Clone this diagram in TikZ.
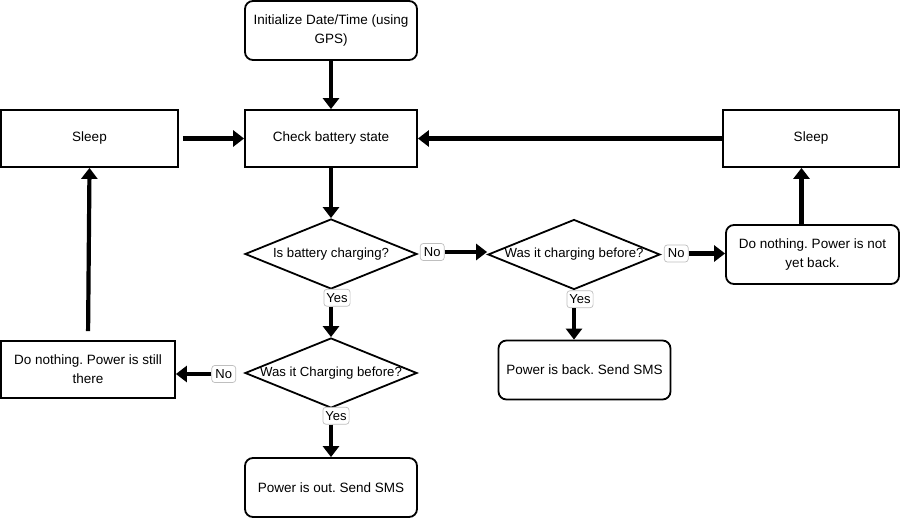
\documentclass[tikz,border=0pt]{standalone}
\usepackage{fontspec}
\setmainfont{Liberation Sans}
\frenchspacing
\usetikzlibrary{shapes.geometric,arrows.meta}
\begin{document}
\begin{tikzpicture}[x=1pt,y=-1pt,
 box/.style={draw,line width=1.8pt,minimum width=172pt,minimum height=57pt,align=center,font=\fontsize{13.5}{19}\selectfont,inner sep=0pt},
 rbox/.style={box,rounded corners=8pt,minimum height=59pt},
 dia/.style={draw,diamond,line width=1.8pt,minimum width=172pt,minimum height=70pt,inner sep=0pt},
 dtext/.style={font=\fontsize{13.2}{19}\selectfont},
 lbl/.style={draw=black!25,fill=white,rounded corners=3pt,inner sep=2.5pt,minimum height=17pt,minimum width=24pt,font=\fontsize{13}{15}\selectfont,line width=0.7pt},
 arr/.style={line width=4.2pt,-{Triangle[length=11pt,width=16pt]}}
]
\useasboundingbox (0,0) rectangle (901,518);
\node[rbox] (init) at (331,30.5) {Initialize Date/Time (using\\GPS)};
\node[box] (check) at (331,138.5) {Check battery state};
\node[box,minimum width=177pt] (sleepL) at (89.5,138.5) {Sleep};
\node[box,minimum width=176pt] (sleepR) at (811,138.5) {Sleep};
\node[dia] (d1) at (331,254) {};
\node[dtext] at (d1) {Is battery charging?};
\node[dia] (d2) at (574,254.5) {};
\node[dtext] at (d2) {Was it charging before?};
\node[rbox,minimum width=173pt] (nyb) at (812.5,254.5) {Do nothing. Power is not\\yet back.};
\node[dia] (d3) at (331,373) {};
\node[dtext] at (d3) {Was it Charging before?};
\node[box,minimum width=174pt] (still) at (88,369.5) {Do nothing. Power is still\\there};
\node[rbox] (back) at (584.5,370) {Power is back. Send SMS};
\node[rbox] (out) at (331,487.5) {Power is out. Send SMS};

\node[lbl,anchor=west] (l1) at ([xshift=2pt,yshift=2pt]d1.east) {No};
\node[lbl,anchor=north] (l2) at ([xshift=6pt,yshift=1pt]d1.south) {Yes};
\node[lbl,anchor=east] (l3) at ([xshift=-8pt,yshift=-1pt]d3.west) {No};
\node[lbl,anchor=north] (l4) at ([xshift=5pt,yshift=2pt]d3.south) {Yes};
\node[lbl,anchor=west] (l5) at ([xshift=3pt,yshift=1pt]d2.east) {No};
\node[lbl,anchor=north] (l6) at ([xshift=6pt]d2.south) {Yes};

\draw[arr] (init.south) -- (check.north);
\draw[arr,shorten <=4pt] (sleepL.east) -- (check.west);
\draw[arr] (sleepR.west) -- (check.east);
\draw[arr] (check.south) -- (d1.north);
\draw[arr] (l1.east) -- (l1.east -| d2.west);
\draw[arr] (d1.south |- l2.south) -- (d3.north);
\draw[arr] (l3.west) -- (l3.west -| still.east);
\draw[arr] (d3.south |- l4.south) -- (out.north);
\draw[arr] (l5.east) -- (l5.east -| nyb.west);
\draw[arr] (d2.south |- l6.south) -- (d2.south |- back.north);
\draw[arr,shorten <=9pt] (still.north) -- (sleepL.south);
\draw[arr] ([xshift=-11pt]nyb.north) -- ([xshift=-11pt]nyb.north |- sleepR.south);
\end{tikzpicture}
\end{document}
